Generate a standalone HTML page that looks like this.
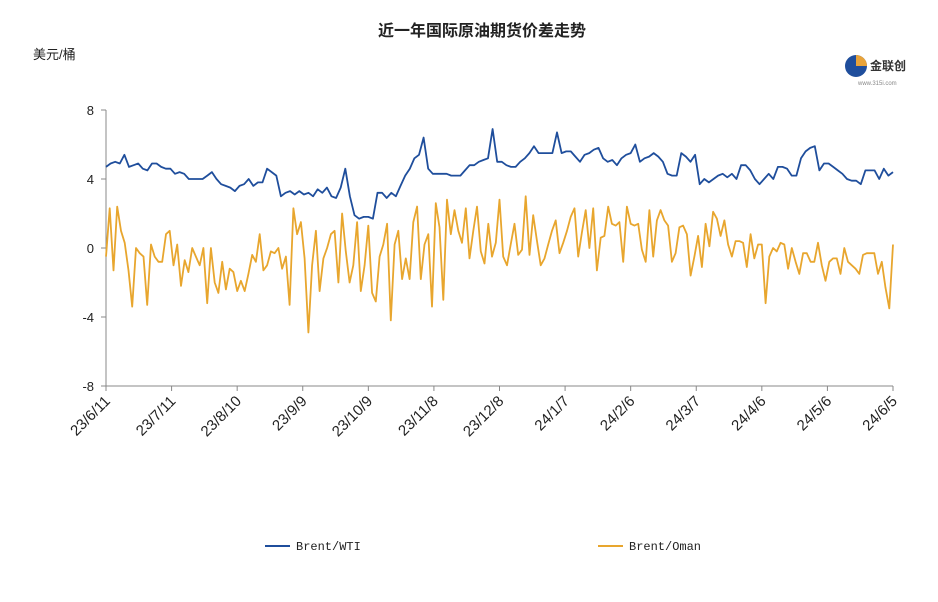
<!DOCTYPE html>
<html><head><meta charset="utf-8"><style>
body{margin:0;background:#fff;}
svg{display:block;font-family:"Liberation Sans","Noto Sans CJK SC",sans-serif;}
</style></head><body>
<svg id="c" width="938" height="602">
<text x="482" y="36" text-anchor="middle" font-size="16" font-weight="bold" fill="#222">近一年国际原油期货价差走势</text>
<text x="33" y="59" font-size="13" fill="#222">美元/桶</text>
<g>
<circle cx="856" cy="66" r="11" fill="#1f4e9c"/><path d="M856 55 A11 11 0 0 1 867 66 L856 66Z" fill="#e8a33a"/>
<text x="870" y="70" font-size="12" font-weight="bold" fill="#333">金联创</text>
<text x="858" y="85" font-size="6" fill="#888">www.315i.com</text>
</g>
<g id="axes"></g><g id="series"></g>
<g>
<line x1="265" y1="546" x2="290" y2="546" stroke="#1f4e9c" stroke-width="2"/>
<text x="296" y="550" font-size="12" font-family="Liberation Mono, monospace" fill="#222">Brent/WTI</text>
<line x1="598" y1="546" x2="623" y2="546" stroke="#e8a62e" stroke-width="2"/>
<text x="629" y="550" font-size="12" font-family="Liberation Mono, monospace" fill="#222">Brent/Oman</text>
</g>
</svg>
<script>
const xLabels=["23/6/11","23/7/11","23/8/10","23/9/9","23/10/9","23/11/8","23/12/8","24/1/7","24/2/6","24/3/7","24/4/6","24/5/6","24/6/5"];
const yTicks=[8,4,0,-4,-8];
const wti=[4.7,4.9,5.0,4.9,5.4,4.7,4.8,4.9,4.6,4.5,4.9,4.9,4.7,4.6,4.6,4.3,4.4,4.3,4.0,4.0,4.0,4.0,4.2,4.4,4.0,3.7,3.6,3.5,3.3,3.6,3.7,4.0,3.6,3.8,3.8,4.6,4.4,4.2,3.0,3.2,3.3,3.1,3.3,3.1,3.2,3.0,3.4,3.2,3.5,3.0,2.9,3.5,4.6,3.0,1.9,1.7,1.8,1.8,1.7,3.2,3.2,2.9,3.2,3.0,3.6,4.2,4.6,5.2,5.4,6.4,4.6,4.3,4.3,4.3,4.3,4.2,4.2,4.2,4.5,4.8,4.8,5.0,5.1,5.2,6.9,5.0,5.0,4.8,4.7,4.7,5.0,5.2,5.5,5.9,5.5,5.5,5.5,5.5,6.7,5.5,5.6,5.6,5.3,5.0,5.4,5.5,5.7,5.8,5.2,5.0,5.1,4.8,5.2,5.4,5.5,6.0,5.0,5.2,5.3,5.5,5.3,5.0,4.3,4.2,4.2,5.5,5.3,5.0,5.4,3.7,4.0,3.8,4.0,4.2,4.3,4.1,4.3,4.0,4.8,4.8,4.5,4.0,3.7,4.0,4.3,4.0,4.7,4.7,4.6,4.2,4.2,5.2,5.6,5.8,5.9,4.5,4.9,4.9,4.7,4.5,4.3,4.0,3.9,3.9,3.7,4.5,4.5,4.5,4.0,4.6,4.2,4.4];
const oman=[-0.5,2.3,-1.3,2.4,1.0,0.3,-1.3,-3.4,0.0,-0.3,-0.5,-3.3,0.2,-0.5,-0.8,-0.8,0.8,1.0,-1.0,0.2,-2.2,-0.7,-1.4,0.0,-0.5,-1.0,0.0,-3.2,0.0,-2.0,-2.6,-0.8,-2.4,-1.2,-1.4,-2.5,-1.9,-2.5,-1.5,-0.4,-0.8,0.8,-1.3,-1.0,-0.2,-0.3,0.0,-1.2,-0.5,-3.3,2.3,0.8,1.5,-0.6,-4.9,-1.0,1.0,-2.5,-0.6,0.0,0.8,1.0,-2.0,2.0,-0.2,-2.0,-1.0,1.5,-2.5,-1.0,1.3,-2.6,-3.1,-0.5,0.2,1.4,-4.2,0.2,1.0,-1.8,-0.6,-1.8,1.5,2.4,-1.8,0.2,0.8,-3.4,2.6,1.2,-3.0,2.8,0.8,2.2,1.0,0.3,2.3,-0.6,1.0,2.4,-0.2,-0.9,1.4,-0.5,0.3,2.8,-0.5,-1.0,0.2,1.4,-0.4,-0.1,3.0,-0.4,1.9,0.4,-1.0,-0.6,0.2,1.0,1.6,-0.3,0.3,1.0,1.8,2.3,-0.5,0.9,2.2,0.0,2.3,-1.3,0.6,0.7,2.4,1.4,1.3,1.5,-0.8,2.4,1.4,1.3,1.4,-0.1,-0.8,2.2,-0.5,1.6,2.2,1.6,1.3,-0.8,-0.3,1.2,1.3,0.8,-1.6,-0.5,0.7,-1.1,1.4,0.1,2.1,1.7,0.7,1.6,0.2,-0.5,0.4,0.4,0.3,-1.1,0.8,-0.6,0.2,0.2,-3.2,-0.5,0.0,-0.2,0.3,0.2,-1.2,0.0,-0.8,-1.5,-0.3,-0.3,-0.8,-0.8,0.3,-1.0,-1.9,-0.8,-0.6,-0.6,-1.5,0.0,-0.8,-1.0,-1.2,-1.5,-0.4,-0.3,-0.3,-0.3,-1.5,-0.8,-2.3,-3.5,0.2];
const NS="http://www.w3.org/2000/svg";
const X0=106,X1=893,Y0=110,Y1=386;
function yS(v){return Y0+(8-v)/16*(Y1-Y0);}
function xS(i,n){return X0+i/(n-1)*(X1-X0);}
function mk(t,a,p){const e=document.createElementNS(NS,t);for(const k in a)e.setAttribute(k,a[k]);p.appendChild(e);return e;}
const ax=document.getElementById('axes');
let e=mk('line',{x1:X0,y1:Y0,x2:X0,y2:Y1,stroke:'#888'},ax);


e=mk('line',{x1:X0,y1:Y1,x2:X1,y2:Y1,stroke:'#888'},ax);


yTicks.forEach(v=>{
  mk('line',{x1:X0-5,y1:yS(v),x2:X0,y2:yS(v),stroke:'#888'},ax);
  const t=mk('text',{x:94,y:yS(v)+5,'text-anchor':'end','font-size':13,fill:'#222'},ax);
  t.textContent=v;
  
  
});
xLabels.forEach((l,i)=>{
  const x=xS(i,xLabels.length);
  mk('line',{x1:x,y1:Y1,x2:x,y2:Y1+5,stroke:'#888'},ax);
  const t=mk('text',{x:x+5,y:Y1+16,'text-anchor':'end','font-size':15,fill:'#222',transform:`rotate(-45 ${x+5} ${Y1+16})`},ax);
  t.textContent=l;
  
  
});
const sg=document.getElementById('series');
function line(d,c,name){
  const pts=d.map((v,i)=>xS(i,d.length).toFixed(1)+','+yS(v).toFixed(1)).join(' ');
  const p=mk('polyline',{points:pts,fill:'none',stroke:c,'stroke-width':1.8,'stroke-linejoin':'round'},sg);
  
  
}
line(oman,'#e8a62e','brent-oman-line');
line(wti,'#1f4e9c','brent-wti-line');
</script>
</body></html>
